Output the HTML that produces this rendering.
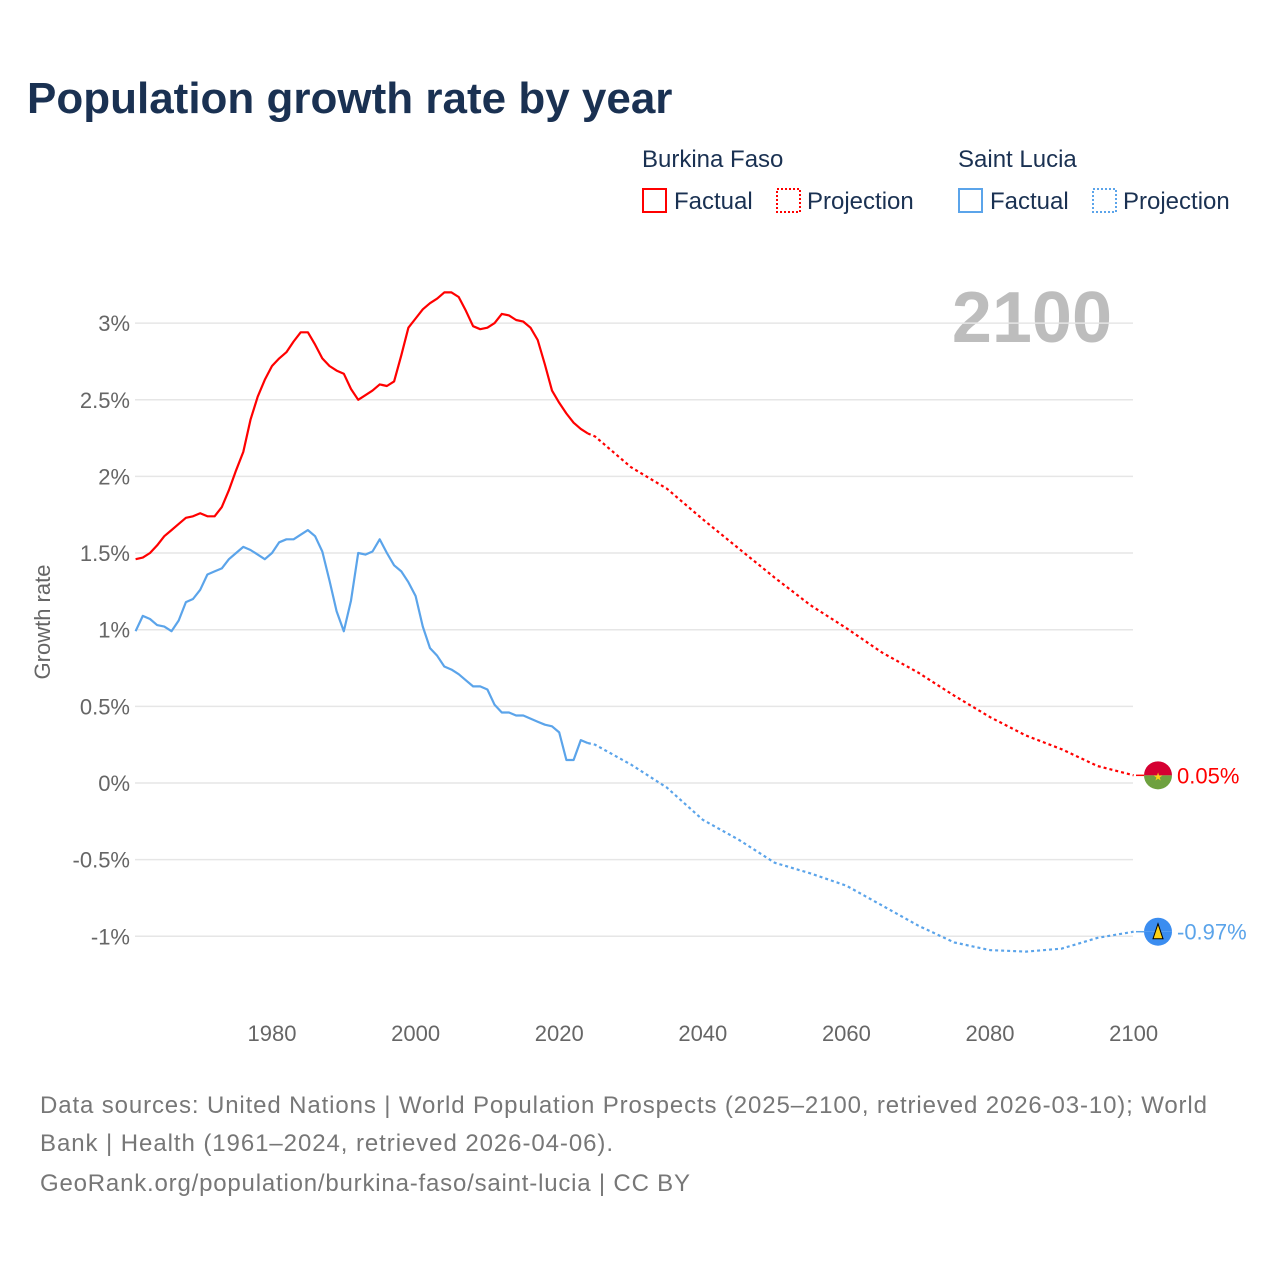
<!DOCTYPE html>
<html><head><meta charset="utf-8"><style>
body{margin:0;background:#fff;width:1280px;height:1280px;overflow:hidden;font-family:"Liberation Sans",sans-serif;}
svg text{font-family:"Liberation Sans",sans-serif;}
</style></head><body>
<svg width="1280" height="1280">
<text x="27" y="113" font-size="44" font-weight="bold" fill="#1a3152">Population growth rate by year</text>
<g>
<text x="642" y="167" font-size="24" fill="#1a3152">Burkina Faso</text>
<text x="958" y="167" font-size="24" fill="#1a3152">Saint Lucia</text>
<rect x="643" y="189" width="23" height="23" fill="none" stroke="#f00" stroke-width="2"/>
<text x="674" y="209" font-size="24" fill="#1a3152">Factual</text>
<rect x="777" y="189" width="23" height="23" fill="none" stroke="#f00" stroke-width="2" stroke-dasharray="2,2"/>
<text x="807" y="209" font-size="24" fill="#1a3152">Projection</text>
<rect x="959" y="189" width="23" height="23" fill="none" stroke="#5ba4ea" stroke-width="2"/>
<text x="990" y="209" font-size="24" fill="#1a3152">Factual</text>
<rect x="1093" y="189" width="23" height="23" fill="none" stroke="#5ba4ea" stroke-width="2" stroke-dasharray="2,2"/>
<text x="1123" y="209" font-size="24" fill="#1a3152">Projection</text>
</g>
<text x="1112" y="342" font-size="72" font-weight="bold" fill="#bdbdbd" text-anchor="end">2100</text>
<text transform="translate(50,622) rotate(-90)" font-size="22" fill="#666" text-anchor="middle">Growth rate</text>
<g id="grid"></g><g id="marks"></g>
<g font-size="24" fill="#777">
<text x="40" y="1113" textLength="1167" lengthAdjust="spacing">Data sources: United Nations | World Population Prospects (2025–2100, retrieved 2026-03-10); World</text>
<text x="40" y="1151" textLength="573" lengthAdjust="spacing">Bank | Health (1961–2024, retrieved 2026-04-06).</text>
<text x="40" y="1191" textLength="650" lengthAdjust="spacing">GeoRank.org/population/burkina-faso/saint-lucia | CC BY</text>
</g>
</svg>
<script>
const yTicks=[3,2.5,2,1.5,1,0.5,0,-0.5,-1];
const xTicks=[1980,2000,2020,2040,2060,2080,2100];
const bfFactual=[1.46,1.47,1.50,1.55,1.61,1.65,1.69,1.73,1.74,1.76,1.74,1.74,1.80,1.91,2.04,2.16,2.37,2.52,2.63,2.72,2.77,2.81,2.88,2.94,2.94,2.86,2.77,2.72,2.69,2.67,2.57,2.50,2.53,2.56,2.60,2.59,2.62,2.79,2.97,3.03,3.09,3.13,3.16,3.20,3.20,3.17,3.08,2.98,2.96,2.97,3.00,3.06,3.05,3.02,3.01,2.97,2.89,2.73,2.56,2.48,2.41,2.35,2.31,2.28];
const slFactual=[0.99,1.09,1.07,1.03,1.02,0.99,1.06,1.18,1.20,1.26,1.36,1.38,1.40,1.46,1.50,1.54,1.52,1.49,1.46,1.50,1.57,1.59,1.59,1.62,1.65,1.61,1.51,1.32,1.12,0.99,1.19,1.50,1.49,1.51,1.59,1.50,1.42,1.38,1.31,1.22,1.02,0.88,0.83,0.76,0.74,0.71,0.67,0.63,0.63,0.61,0.51,0.46,0.46,0.44,0.44,0.42,0.40,0.38,0.37,0.33,0.15,0.15,0.28,0.26];
const projYears=[2024,2025,2030,2035,2040,2045,2050,2055,2060,2065,2070,2075,2080,2085,2090,2095,2100];
const bfProj=[2.28,2.26,2.06,1.92,1.72,1.53,1.34,1.16,1.01,0.85,0.72,0.57,0.43,0.31,0.22,0.11,0.05];
const slProj=[0.26,0.25,0.12,-0.03,-0.24,-0.37,-0.52,-0.59,-0.67,-0.80,-0.93,-1.04,-1.09,-1.10,-1.08,-1.01,-0.97];
const NS="http://www.w3.org/2000/svg";
const X=y=>135.6+(y-1961)*7.18;
const Y=v=>783-v*153.3;
const grid=document.getElementById('grid'),marks=document.getElementById('marks');
function mk(tag,attrs,parent){const e=document.createElementNS(NS,tag);for(const k in attrs)e.setAttribute(k,attrs[k]);parent.appendChild(e);return e;}
yTicks.forEach(v=>{
 const l=mk('line',{x1:135,x2:1133,y1:Y(v),y2:Y(v),stroke:'#e6e6e6','stroke-width':1.5},grid);
 
 
 const t=mk('text',{x:130,y:Y(v)+8,'font-size':22,fill:'#666','text-anchor':'end'},grid);
 t.textContent=(v+'%');
 
 
});
xTicks.forEach(y=>{
 const t=mk('text',{x:X(y),y:1041,'font-size':22,fill:'#666','text-anchor':'middle'},grid);
 t.textContent=y;
 
 
});
function path(years,vals,color,dash,name){
 const d=vals.map((v,i)=>(i?'L':'M')+X(years[i]).toFixed(1)+','+Y(v).toFixed(1)).join('');
 const p=mk('path',{d:d,fill:'none',stroke:color,'stroke-width':2.2,'stroke-linejoin':'round'},marks);
 if(dash)p.setAttribute('stroke-dasharray','3,3');
 
 
}
const fy=bfFactual.map((_,i)=>1961+i);
path(fy,bfFactual,'#f00',false,'burkina-factual-line');
path(projYears,bfProj,'#f00',true,'burkina-projection-line');
path(fy,slFactual,'#5ba4ea',false,'lucia-factual-line');
path(projYears,slProj,'#5ba4ea',true,'lucia-projection-line');
function endMark(v,top,bot,label,color,name){
 const cx=1158,cy=Y(v);
 mk('line',{x1:1136,x2:1144,y1:cy,y2:cy,stroke:color,'stroke-width':1.5},marks);
 const g=mk('g',{},marks);
 
 
 mk('path',{d:`M${cx-14},${cy} A14,14 0 0 1 ${cx+14},${cy} Z`,fill:top},g);
 mk('path',{d:`M${cx-14},${cy} A14,14 0 0 0 ${cx+14},${cy} Z`,fill:bot},g);
 const t=mk('text',{x:1177,y:cy+8,'font-size':22,fill:color},marks);
 t.textContent=label;
 
 
 return [cx,cy,g];
}
const b=endMark(bfProj[bfProj.length-1],'#d50032','#6ea13f','0.05%','#f00','burkina');
mk('text',{x:b[0],y:b[1]+5,'font-size':11,fill:'#fcd116','text-anchor':'middle'},b[2]).textContent='★';
const s=endMark(slProj[slProj.length-1],'#3b8df0','#3b8df0','-0.97%','#5ba4ea','lucia');
mk('path',{d:`M${s[0]},${s[1]-8} L${s[0]+5},${s[1]+7} L${s[0]-5},${s[1]+7} Z`,fill:'#fcd116',stroke:'#000','stroke-width':1},s[2]);
</script>
</body></html>
